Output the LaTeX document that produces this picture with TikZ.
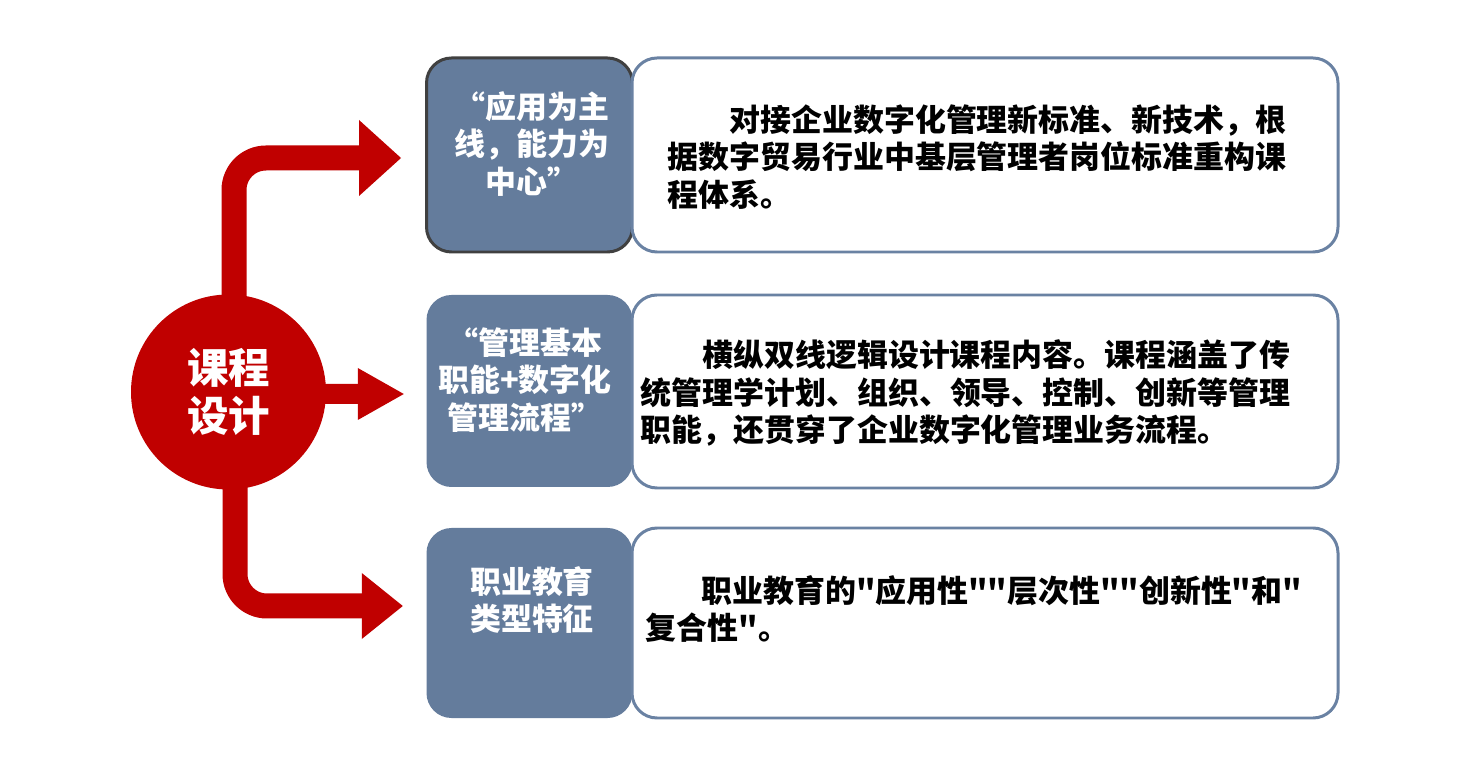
\documentclass[tikz,border=0pt]{standalone}
\usepackage{fontspec}
\setmainfont{Noto Sans CJK SC}[Ligatures=TeXOff]
\usetikzlibrary{arrows.meta,backgrounds}
\definecolor{kred}{HTML}{C00000}
\definecolor{slate}{HTML}{647C9C}
\definecolor{slateline}{HTML}{6A82A3}
\definecolor{darkrim}{HTML}{404040}

\begin{document}
\begin{tikzpicture}[font=\bfseries,
hub/.style={circle, fill=kred, minimum size=19.5mm, inner sep=0pt, align=center, text=white, font=\bfseries\fontsize{11.8pt}{13.7pt}\selectfont},
tag/.style={fill=slate, rounded corners=2.5mm, minimum width=20.6mm, minimum height=19.2mm},
tagtext/.style={align=center, inner sep=0pt, text=white, font=\bfseries\fontsize{8.8pt}{10.7pt}\selectfont},
card/.style={draw=slateline, line width=0.85pt, fill=white, rounded corners=2.5mm, minimum width=70.6mm, minimum height=19.2mm},
cardtext/.style={anchor=west, align=left, inner sep=0pt, font=\bfseries\fontsize{8.8pt}{10.7pt}\selectfont},
branch/.style={draw=kred, line width=2.5mm, rounded corners=3.2mm}]

\useasboundingbox (0,0) rectangle (14.64,-7.63);

% hub
\node[hub] (design) at (2.285,-3.92) {课程\\设计};

% left tags
\node[tag, draw=darkrim, line width=0.85pt, minimum height=19.4mm] (apply) at (5.295,-1.55) {};
\node[tag, minimum height=19.2mm] (dual) at (5.295,-3.91) {};
\node[tag, minimum height=19.0mm] (voc) at (5.295,-6.23) {};
\node[tagtext] (applytxt) at (5.32,-1.44) {“应用为主\\线，能力为\\中心”};
\node[tagtext] (dualtxt) at (5.25,-3.80) {“管理基本\\职能+数字化\\管理流程”};
\node[tagtext] (voctxt) at (5.32,-6.00) {职业教育\\类型特征};

% right cards
\node[card, minimum height=19.4mm] (applycard) at (9.85,-1.55) {};
\node[card, minimum height=19.3mm] (dualcard) at (9.85,-3.915) {};
\node[card, minimum height=19.0mm] (voccard) at (9.85,-6.23) {};
\node[cardtext] (applynote) at (6.67,-1.57) {\hspace*{2em}对接企业数字化管理新标准、新技术，根\\据数字贸易行业中基层管理者岗位标准重构课\\程体系。};
\node[cardtext] (dualnote) at (6.40,-3.93) {\hspace*{2em}横纵双线逻辑设计课程内容。课程涵盖了传\\统管理学计划、组织、领导、控制、创新等管理\\职能，还贯穿了企业数字化管理业务流程。};
\node[cardtext] (vocnote) at (6.45,-6.09) {\hspace*{1.8em}职业教育的"应用性""层次性""创新性"和"\\复合性"。};

% branches
\begin{scope}[on background layer]
\fill[white] (0,0) rectangle (14.64,-7.63);
\draw[branch, -{Triangle[length=4.2mm,width=7.6mm,line width=0pt]}] ([xshift=0.55mm]design.center) |- ([xshift=-2.4mm,yshift=-0.3mm]apply.west);
\draw[branch, line width=2mm, -{Triangle[length=4.6mm,width=5.2mm,line width=0pt]}] ([yshift=-0.2mm]design.center) -- ([xshift=-2.2mm,yshift=-0.3mm]dual.west);
\draw[branch, -{Triangle[length=4.1mm,width=6.6mm,line width=0pt]}] ([xshift=0.65mm]design.center) |- ([xshift=-2.3mm,yshift=1.7mm]voc.west);
\end{scope}
\end{tikzpicture}
\end{document}
